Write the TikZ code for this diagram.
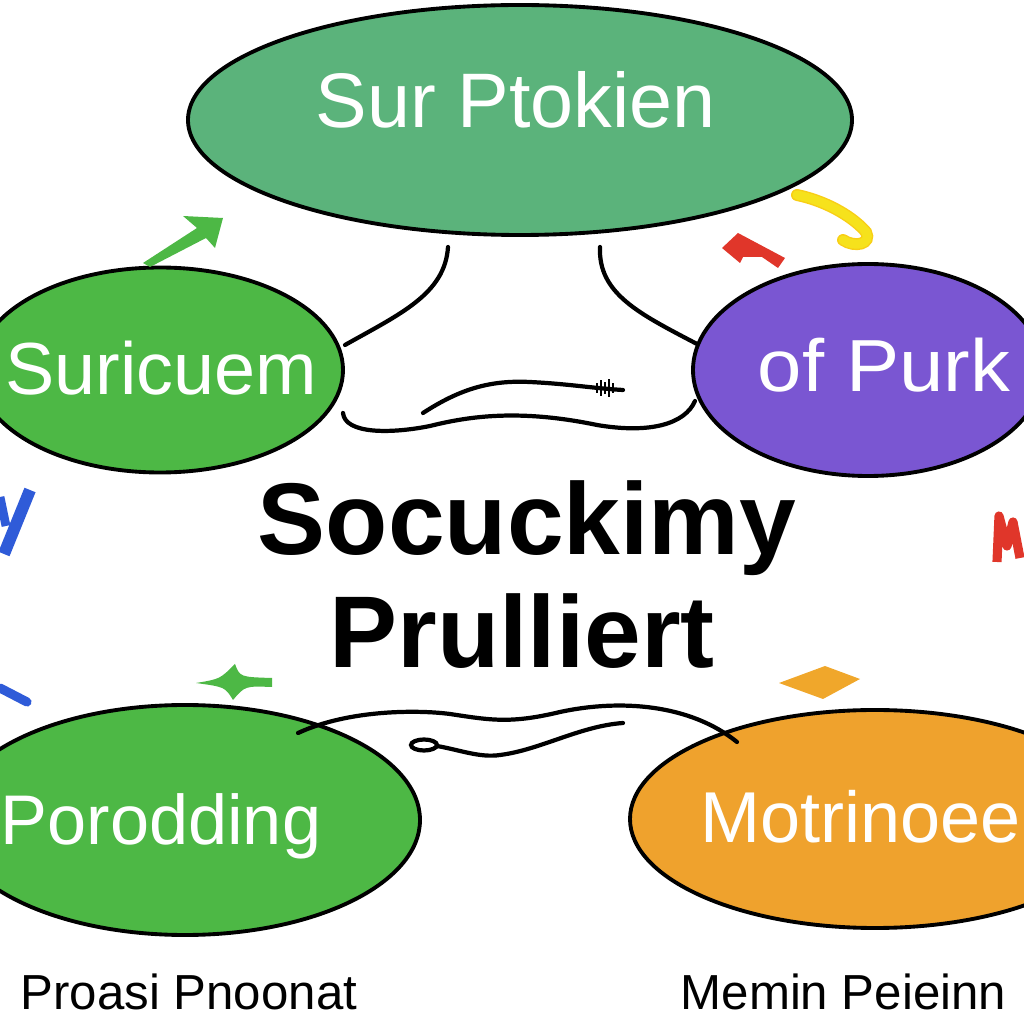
\documentclass[tikz,border=0pt]{standalone}
\usepackage{xcolor}
\usepackage{fontspec}
\setmainfont{Liberation Sans}
\usepackage{tikz}
\usetikzlibrary{shapes,arrows,positioning,calc}

\definecolor{topgreen}{HTML}{5BB37B}
\definecolor{leafgreen}{HTML}{4DB845}
\definecolor{violet}{HTML}{7A56D2}
\definecolor{amber}{HTML}{EFA22D}
\definecolor{signred}{HTML}{E0362A}
\definecolor{hookyellow}{HTML}{F6E21C}
\definecolor{markblue}{HTML}{2F5BD8}

\begin{document}
\begin{tikzpicture}[node distance=1.1cm]
    \tikzstyle{bubble} = [draw=black, ellipse, line width=1.1pt, inner sep=0pt]
    \tikzstyle{word} = [text=white, inner sep=0pt, anchor=base west]
    \tikzstyle{heading} = [text=black, inner sep=0pt, anchor=base, font=\bfseries\fontsize{29}{31}\selectfont]
    \tikzstyle{caption} = [text=black, inner sep=0pt, anchor=base west, font=\fontsize{14}{16}\selectfont]
    \tikzstyle{wire} = [draw=black, line width=1.2pt, line cap=round]

    \useasboundingbox (0,0) rectangle (10.24,10.24);
    \clip (0,0) rectangle (10.24,10.24);

    % Nodes
    \node [bubble, fill=topgreen, minimum width=6.64cm, minimum height=2.30cm] (ptokien) at (5.20,9.04) {};
    \node [bubble, fill=leafgreen, minimum width=3.66cm, minimum height=2.05cm] (suricuem) at (1.60,6.54) {};
    \node [bubble, fill=violet, minimum width=3.50cm, minimum height=2.12cm] (purk) at (8.68,6.54) {};
    \node [bubble, fill=leafgreen, minimum width=4.70cm, minimum height=2.30cm] (porodding) at (1.85,2.04) {};
    \node [bubble, fill=amber, minimum width=4.90cm, minimum height=2.18cm] (motrinoee) at (8.75,2.05) {};

    \node [word, font=\fontsize{22}{25}\selectfont] (ptokien_txt) at (3.15,8.96) {Sur Ptokien};
    \node [word, font=\fontsize{21}{24}\selectfont] (suricuem_txt) at (0.05,6.29) {Suricuem};
    \node [word, xscale=1.08, font=\fontsize{21}{24}\selectfont] (purk_txt) at (7.57,6.32) {of Purk};
    \node [word, font=\fontsize{20}{23}\selectfont] (porodding_txt) at (0.0,1.79) {Porodding};
    \node [word, font=\fontsize{20.5}{24}\selectfont] (motrinoee_txt) at (7.0,1.81) {Motrinoee};

    \node [heading] (socuckimy) at (5.27,4.69) {Socuckimy};
    \node [heading] (prulliert) at (5.22,3.56) {Prulliert};

    \node [caption] (proasi) at (0.20,0.14) {Proasi Pnoonat};
    \node [caption] (memin) at (6.80,0.14) {Memin Peieinn};

    % Curves
    \draw [wire] (4.48,7.77) .. controls (4.45,7.30) and (4.00,7.10) .. (3.45,6.79);
    \draw [wire] (6.00,7.77) .. controls (5.98,7.30) and (6.40,7.10) .. (6.97,6.80);
    \draw [wire] (4.23,6.11) .. controls (4.60,6.35) and (4.90,6.44) .. (5.30,6.42)
                 .. controls (5.70,6.40) and (5.90,6.36) .. (6.23,6.34);
    \draw [wire] (3.43,6.11) .. controls (3.45,5.90) and (3.90,5.90) .. (4.30,5.98)
                 .. controls (4.70,6.08) and (5.20,6.15) .. (5.97,5.99)
                 .. controls (6.50,5.90) and (6.85,6.00) .. (6.95,6.23);
    \foreach \x/\h in {5.97/0.05, 6.01/0.08, 6.05/0.06, 6.09/0.09, 6.13/0.05}
        \draw [black, line width=0.7pt] (\x,6.36-\h) -- (\x,6.36+\h);
    \draw [wire] (2.98,2.91) .. controls (3.50,3.15) and (4.20,3.14) .. (4.50,3.10)
                 .. controls (4.90,3.04) and (5.10,3.00) .. (5.60,3.12)
                 .. controls (6.20,3.25) and (6.90,3.20) .. (7.37,2.82);
    \draw [wire] (4.24,2.79) ellipse (0.13 and 0.055);
    \draw [wire] (4.37,2.78) .. controls (4.60,2.74) and (4.80,2.66) .. (5.00,2.69)
                 .. controls (5.40,2.74) and (5.80,2.98) .. (6.23,3.01);

    % Marks
    \fill [leafgreen] (1.43,7.61) -- (1.97,7.96) -- (1.83,8.08) -- (2.23,8.06)
                      -- (2.15,7.76) -- (2.06,7.86) -- (1.50,7.57) -- cycle;
    \fill [signred] (7.22,7.76) -- (7.38,7.91) -- (7.85,7.66) -- (7.78,7.56)
                    -- (7.62,7.67) -- (7.43,7.67) -- (7.40,7.61) -- cycle;
    \draw [draw=hookyellow!80!orange, line width=3.4pt, line cap=round]
        (7.97,8.29) .. controls (8.30,8.22) and (8.55,8.05) .. (8.66,7.92)
        .. controls (8.72,7.80) and (8.55,7.76) .. (8.43,7.84);
    \draw [draw=hookyellow, line width=2.6pt, line cap=round]
        (7.97,8.29) .. controls (8.30,8.22) and (8.55,8.05) .. (8.66,7.92)
        .. controls (8.72,7.80) and (8.55,7.76) .. (8.43,7.84);
    \draw [markblue, line width=3.4pt] (0.30,5.34) -- (0.04,4.70);
    \draw [markblue, line width=2.5pt] (0.0,5.27) -- (0.06,4.98);
    \draw [signred, line width=2.6pt, line join=round] (9.97,4.62) -- (9.99,5.08) -- (10.07,4.78) -- (10.13,5.02) -- (10.20,4.66);
    \draw [markblue, line width=2.6pt, line cap=round] (0.0,3.36) -- (0.27,3.22);
    \fill [leafgreen] (1.96,3.41) .. controls (2.20,3.45) .. (2.35,3.60)
                      .. controls (2.40,3.47) .. (2.72,3.46) -- (2.72,3.37)
                      .. controls (2.45,3.38) .. (2.33,3.24)
                      .. controls (2.25,3.37) .. cycle;
    \fill [amber!95!yellow] (7.79,3.41) -- (8.25,3.58) -- (8.60,3.45) -- (8.23,3.25) -- cycle;
\end{tikzpicture}
\end{document}
